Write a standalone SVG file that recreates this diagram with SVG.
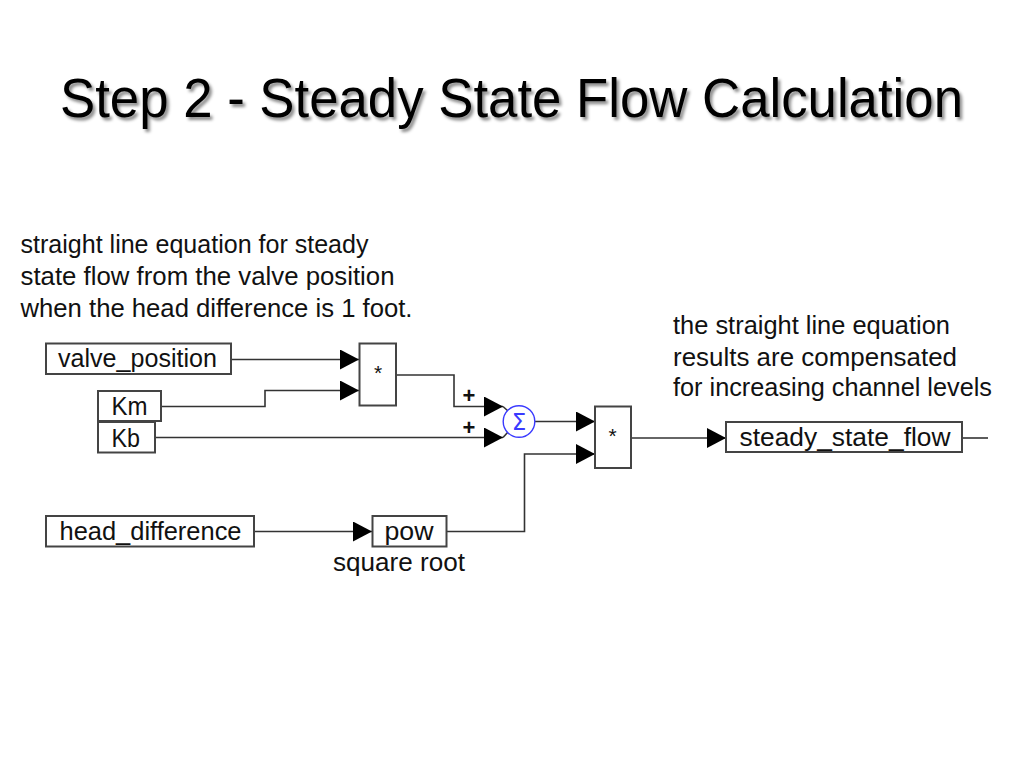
<svg xmlns="http://www.w3.org/2000/svg" width="1024" height="768" viewBox="0 0 1024 768">
<style>
text{font-family:"Liberation Sans",Arial,sans-serif;fill:#111}
.box{fill:#fff;stroke:#444;stroke-width:2}
.lbl{font-size:25.5px}
.note{font-size:25.5px}
.wire{fill:none;stroke:#333;stroke-width:1.6}
.op{font-size:21px;text-anchor:middle}
.plus{font-size:22px;font-weight:bold;text-anchor:middle}
</style>
<defs>
<marker id="arr" markerUnits="userSpaceOnUse" markerWidth="20" markerHeight="20" refX="19" refY="10" orient="auto">
<path d="M0,0 L19,10 L0,20 z" fill="#000"/>
</marker>
<filter id="sh" x="-5%" y="-20%" width="110%" height="150%">
<feDropShadow dx="2.5" dy="3" stdDeviation="1.5" flood-color="#000" flood-opacity="0.45"/>
</filter>
</defs>
<rect width="1024" height="768" fill="#fff"/>
<text x="60" y="117" font-size="55" textLength="903" lengthAdjust="spacingAndGlyphs" filter="url(#sh)" style="fill:#000">Step 2 - Steady State Flow Calculation</text>

<g id="note-left">
<text class="note" x="20.5" y="253" textLength="348" lengthAdjust="spacingAndGlyphs">straight line equation for steady</text>
<text class="note" x="20.5" y="285" textLength="374" lengthAdjust="spacingAndGlyphs">state flow from the valve position</text>
<text class="note" x="20.5" y="317" textLength="392" lengthAdjust="spacingAndGlyphs">when the head difference is 1 foot.</text>
</g>
<g id="note-right">
<text class="note" x="673" y="334" textLength="277" lengthAdjust="spacingAndGlyphs">the straight line equation</text>
<text class="note" x="673" y="366" textLength="284" lengthAdjust="spacingAndGlyphs">results are compensated</text>
<text class="note" x="673" y="396" textLength="319" lengthAdjust="spacingAndGlyphs">for increasing channel levels</text>
</g>

<g id="connectors">
<path class="wire" d="M231,359.5 H359" marker-end="url(#arr)"/>
<path class="wire" d="M161,406.5 H265 V390.5 H359" marker-end="url(#arr)"/>
<path class="wire" d="M396,375 H454 V406.5 H503" marker-end="url(#arr)"/>
<path class="wire" d="M155,437.5 H503" marker-end="url(#arr)"/>
<path class="wire" d="M503,406.5 L508,411"/>
<path class="wire" d="M503,437.5 L508,432"/>
<path class="wire" d="M535,421.5 H595" marker-end="url(#arr)"/>
<path class="wire" d="M447,531.5 H524.5 V454 H595" marker-end="url(#arr)"/>
<path class="wire" d="M631,438 H726" marker-end="url(#arr)"/>
<path class="wire" d="M962,438 H988"/>
<path class="wire" d="M254,531.5 H372" marker-end="url(#arr)"/>
</g>

<g id="valve_position">
<rect class="box" x="46" y="343.5" width="185" height="30.5"/>
<text class="lbl" x="58" y="367" textLength="159" lengthAdjust="spacingAndGlyphs">valve_position</text>
</g>
<g id="Km">
<rect class="box" x="98" y="391" width="63" height="30"/>
<text class="lbl" x="111.5" y="415" textLength="36" lengthAdjust="spacingAndGlyphs">Km</text>
</g>
<g id="Kb">
<rect class="box" x="98" y="422" width="57" height="30.5"/>
<text class="lbl" x="111.5" y="447" textLength="28.5" lengthAdjust="spacingAndGlyphs">Kb</text>
</g>
<g id="mult1">
<rect class="box" x="359.5" y="343.5" width="36.5" height="62"/>
<text class="op" x="378" y="380">*</text>
</g>
<g id="sum">
<text class="plus" x="469" y="403">+</text>
<text class="plus" x="469" y="435">+</text>
<circle cx="519" cy="421.5" r="15.8" fill="#fff" stroke="#3a3aff" stroke-width="1.4"/>
<text x="519" y="430" font-size="23" text-anchor="middle" style="fill:#3a3aff;font-family:'DejaVu Sans',sans-serif;font-weight:normal">Σ</text>
</g>
<g id="mult2">
<rect class="box" x="595" y="406.5" width="36" height="61.5"/>
<text class="op" x="612.5" y="443">*</text>
</g>
<g id="steady_state_flow">
<rect class="box" x="726" y="422" width="236" height="30"/>
<text class="lbl" x="739.5" y="446" textLength="211" lengthAdjust="spacingAndGlyphs">steady_state_flow</text>
</g>
<g id="head_difference">
<rect class="box" x="46" y="516" width="208" height="30.5"/>
<text class="lbl" x="59.5" y="540" textLength="182" lengthAdjust="spacingAndGlyphs">head_difference</text>
</g>
<g id="pow">
<rect class="box" x="372.5" y="516" width="74" height="30.5"/>
<text class="lbl" x="384.5" y="540" textLength="49" lengthAdjust="spacingAndGlyphs">pow</text>
<text class="lbl" x="333" y="571" textLength="132" lengthAdjust="spacingAndGlyphs">square root</text>
</g>
</svg>
